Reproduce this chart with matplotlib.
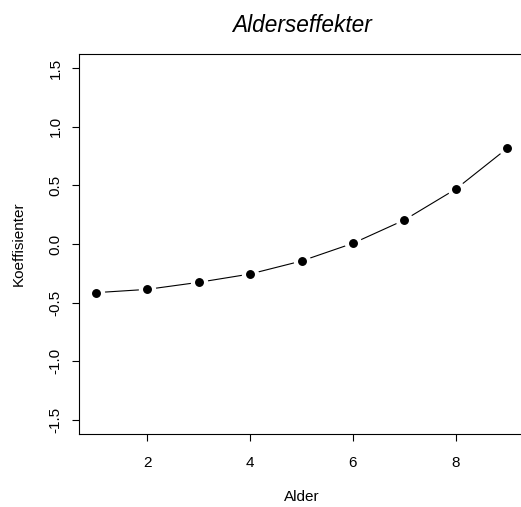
import matplotlib
matplotlib.use('Agg')
import matplotlib.pyplot as plt

# age effect coefficients
alder = [1, 2, 3, 4, 5, 6, 7, 8, 9]
koeff = [-0.415, -0.387, -0.327, -0.256, -0.145, 0.006, 0.205, 0.469, 0.817]
x_ticks = [2, 4, 6, 8]
y_ticks = [-1.5, -1.0, -0.5, 0.0, 0.5, 1.0, 1.5]

plt.rcParams['font.family'] = ['Liberation Sans', 'DejaVu Sans']

fig = plt.figure(figsize=(5.21, 5.07), dpi=100)
# plot region runs past the right edge, like the reference
ax = fig.add_axes([0.152, 0.144, 0.8535, 0.7495])

# type="b" look: line, white halo to break it, then the dots
ax.plot(alder, koeff, color='black', lw=0.8, zorder=2)
ax.plot(alder, koeff, 'o', ms=11.5, mfc='white', mec='white', zorder=3)
ax.plot(alder, koeff, 'o', ms=5.4, mfc='black', mec='black', zorder=4)

ax.set_xlim(0.68, 9.32)
ax.set_ylim(-1.62, 1.62)
ax.set_xticks(x_ticks)
ax.set_xticklabels([str(v) for v in x_ticks])
ax.set_yticks(y_ticks)
ax.set_yticklabels(['%.1f' % v for v in y_ticks], rotation=90, va='center')

ax.tick_params(direction='out', length=5, width=0.8, labelsize=11, color='black')
ax.tick_params(axis='x', pad=10.5)
ax.tick_params(axis='y', pad=7)
for s in ax.spines.values():
    s.set_linewidth(0.8)

ax.set_xlabel('Alder', fontsize=11, labelpad=14.5)
ax.set_ylabel('Koeffisienter', fontsize=11, labelpad=16.5)
ax.set_title('Alderseffekter', fontsize=16.3, style='italic', pad=16)

fig.savefig('out.png', dpi=100)
